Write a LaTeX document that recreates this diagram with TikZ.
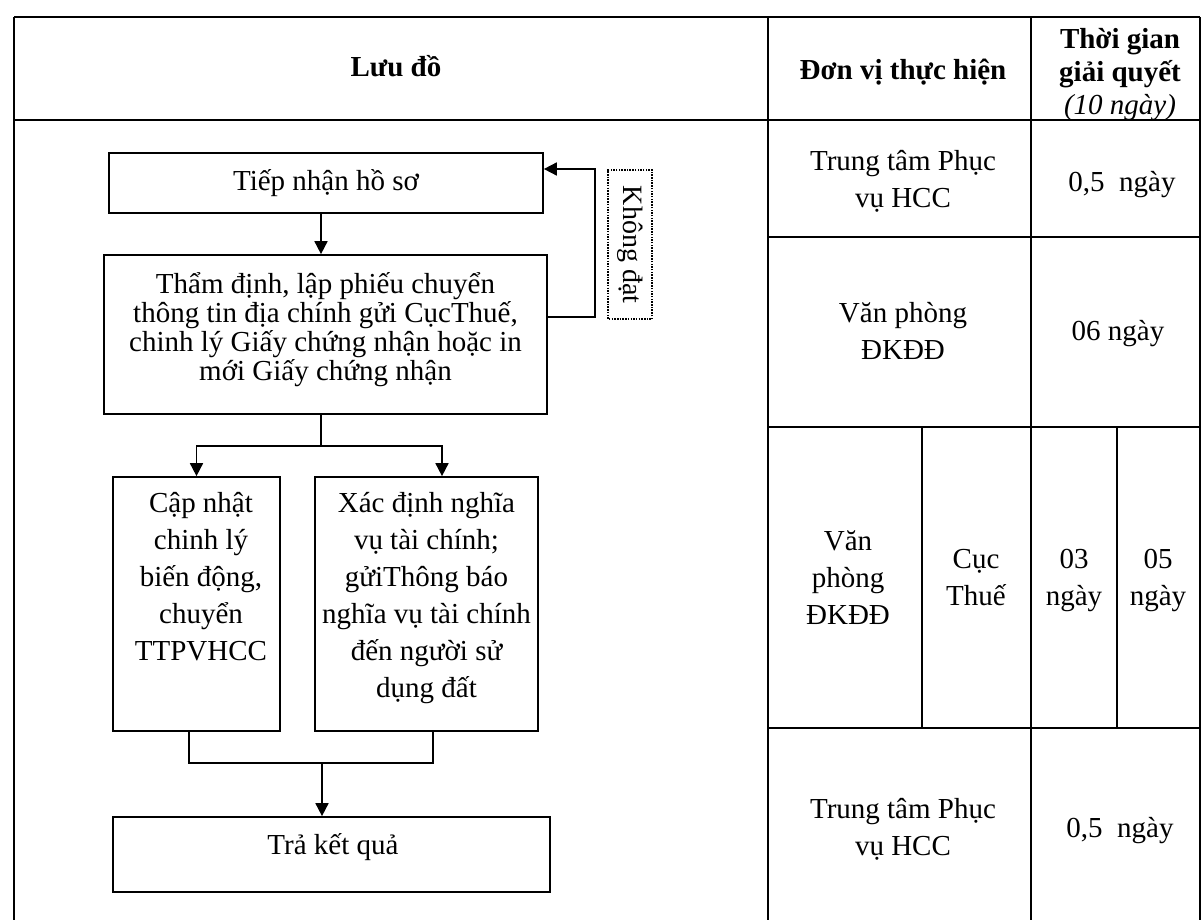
\documentclass[tikz,border=0pt]{standalone}
\usepackage{fontspec}
\setmainfont{Liberation Serif}
\usetikzlibrary{arrows.meta}
\lineskiplimit=-100pt
\newcommand{\fs}{\rule{0pt}{30pt}}
\tikzset{
  tbl/.style={line width=1.7pt},
  box/.style={draw, line width=1.7pt, inner sep=0pt},
  conn/.style={line width=1.7pt},
  arr/.style={line width=1.7pt, -{Triangle[length=13pt,width=13pt]}},
  txt/.style={inner sep=0pt, align=center, font=\fontsize{29}{37}\selectfont},
  txtt/.style={inner sep=0pt, align=center, font=\fontsize{29}{29}\selectfont},
}
\begin{document}
\begin{tikzpicture}[x=1pt,y=-1pt]
\useasboundingbox[fill=white] (0,0) rectangle (1201,920);

% ---------- table grid ----------
\draw[tbl] (14,17) -- (1200,17);
\draw[tbl] (14,17) -- (14,920);
\draw[tbl] (14,120) -- (1200,120);
\draw[tbl] (768,17) -- (768,920);
\draw[tbl] (1031,17) -- (1031,920);
\draw[tbl] (1200,17) -- (1200,920);
\draw[tbl] (768,237) -- (1200,237);
\draw[tbl] (768,427) -- (1200,427);
\draw[tbl] (768,728) -- (1200,728);
\draw[tbl] (922,427) -- (922,728);
\draw[tbl] (1117,427) -- (1117,728);

% ---------- header ----------
\node[txt, anchor=base, font=\fontsize{29}{37}\selectfont\bfseries] (luu) at (396,77) {Lưu đồ};
\node[txt, anchor=base, font=\fontsize{29}{37}\selectfont\bfseries] (donvi) at (903,80) {Đơn vị thực hiện};
\node[txt, anchor=north, font=\fontsize{29}{33}\selectfont] (tg) at (1120,18)
  {\fs\textbf{Thời gian}\\\textbf{giải quyết}\\\textit{(10 ngày)}};

% ---------- right columns ----------
\node[txt, anchor=north] (r1a) at (903,140) {\fs Trung tâm Phục\\vụ HCC};
\node[txt, anchor=base] (r1b) at (1122,192) {0,5\hspace{0.5em}ngày};
\node[txt, anchor=north] (r2a) at (903,292) {\fs Văn phòng\\ĐKĐĐ};
\node[txt, anchor=base] (r2b) at (1118,340) {06 ngày};
\node[txt, anchor=north] (r3a) at (848,520) {\fs Văn\\phòng\\ĐKĐĐ};
\node[txt, anchor=north] (r3b) at (976,538) {\fs Cục\\Thuế};
\node[txt, anchor=north] (r3c) at (1074,538) {\fs 03\\ngày};
\node[txt, anchor=north] (r3d) at (1158,538) {\fs 05\\ngày};
\node[txt, anchor=north] (r4a) at (903,788) {\fs Trung tâm Phục\\vụ HCC};
\node[txt, anchor=base] (r4b) at (1120,837) {0,5\hspace{0.5em}ngày};

% ---------- flowchart boxes ----------
\node[box, minimum width=434pt, minimum height=60pt] (tiep) at (326,183) {};
\node[txt, anchor=base] (tiept) at (326,190) {Tiếp nhận hồ sơ};

\node[box, minimum width=443pt, minimum height=159pt] (tham) at (325.5,334.5) {};
\node[txtt, anchor=north] (thamt) at (325.5,263)
  {\fs Thẩm định, lập phiếu chuyển\\thông tin địa chính gửi CụcThuế,\\chinh lý Giấy chứng nhận hoặc in\\mới Giấy chứng nhận};

\node[box, minimum width=167pt, minimum height=254pt] (cap) at (196.5,604) {};
\node[txt, anchor=north] (capt) at (201,482) {\fs Cập nhật\\chinh lý\\biến động,\\chuyển\\TTPVHCC};

\node[box, minimum width=223pt, minimum height=254pt] (xac) at (426.5,604) {};
\node[txt, anchor=north] (xact) at (426.5,482)
  {\fs Xác định nghĩa\\vụ tài chính;\\gửiThông báo\\nghĩa vụ tài chính\\đến người sử\\dụng đất};

\node[box, minimum width=437pt, minimum height=75pt] (tra) at (331.5,854.5) {};
\node[txt, anchor=base] (trat) at (333,854) {Trả kết quả};

\node[draw, line width=1.3pt, dash pattern=on 1.5pt off 1.2pt, rotate=-90,
      minimum width=149pt, minimum height=44pt, inner sep=0pt,
      font=\fontsize{28}{34}\selectfont] (khong) at (630,244.5) {Không đạt};

% ---------- connectors ----------
\draw[arr] ([xshift=-5pt]tiep.south) -- ([xshift=-5pt]tiep.south |- tham.north);
\draw[arr] ([yshift=17.5pt]tham.east) -- ++(47,0) |- ([yshift=14pt]tiep.east);

\coordinate (sp) at (321,446);
\draw[conn] (tham.south -| sp) -- (sp);
\draw[arr] (sp) -| (cap.north);
\draw[arr] (sp) -| ([xshift=15.5pt]xac.north);

\coordinate (mg) at (322,763);
\draw[conn] ([xshift=-7.5pt]cap.south) |- (mg) -| ([xshift=6.5pt]xac.south);
\draw[arr] (mg) -- (tra.north -| mg);
\end{tikzpicture}
\end{document}
